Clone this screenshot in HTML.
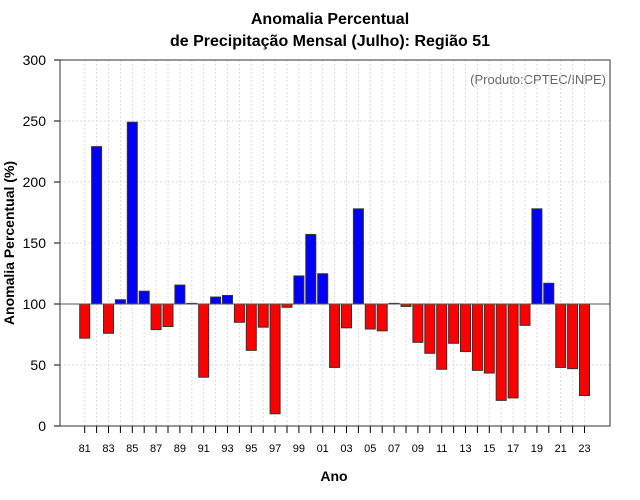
<!DOCTYPE html>
<html><head><meta charset="utf-8"><style>
body{margin:0;background:#fff}
svg{display:block;font-family:"Liberation Sans",sans-serif}
</style></head><body>
<svg id="chart" width="640" height="500">
<text x="330" y="24" text-anchor="middle" font-size="16" font-weight="bold">Anomalia Percentual</text>
<text x="330" y="46" text-anchor="middle" font-size="16" font-weight="bold">de Precipitação Mensal (Julho): Região 51</text>
<text x="606" y="84" text-anchor="end" font-size="13" fill="#666">(Produto:CPTEC/INPE)</text>
<text x="334" y="481" text-anchor="middle" font-size="14" font-weight="bold">Ano</text>
<text transform="translate(14,243) rotate(-90)" text-anchor="middle" font-size="14" font-weight="bold">Anomalia Percentual (%)</text>
<g id="grid"></g><g id="bars"></g><g id="axes"></g>
</svg>
<script>
const years=[81,82,83,84,85,86,87,88,89,90,91,92,93,94,95,96,97,98,99,0,1,2,3,4,5,6,7,8,9,10,11,12,13,14,15,16,17,18,19,20,21,22,23];
const values=[72,229,76,103.5,249,110.5,79,81.5,115.5,100.5,40,105.7,107,85,62,81,10,97.3,123,157,124.8,48,80.5,178,79.5,78,100.5,98,68.6,59.6,46.5,67.8,61,45.6,43.4,21,23,82.5,178,117,48,47,25];
const yTicks=[0,50,100,150,200,250,300];
const baseline=100;
const NS="http://www.w3.org/2000/svg";
const L=60,R=610,T=60,B=426;
const y=v=>B-(v/300)*(B-T);
const x=i=>84.7+i*11.9;
function mk(tag,attrs,parent){const e=document.createElementNS(NS,tag);for(const k in attrs)e.setAttribute(k,attrs[k]);parent.appendChild(e);return e;}
const grid=document.getElementById('grid'),bars=document.getElementById('bars'),axes=document.getElementById('axes');
yTicks.forEach(t=>{
 const g=mk('line',{x1:L,x2:R,y1:y(t),y2:y(t),stroke:'#ddd','stroke-dasharray':'2,2'},grid);
 
 
 const tk=mk('line',{x1:L-6,x2:L,y1:y(t),y2:y(t),stroke:'#000'},axes);
 
 
 const lb=mk('text',{x:L-14,y:y(t)+5,'text-anchor':'end','font-size':14},axes);
 lb.textContent=t;
 
 
});
years.forEach((yr,i)=>{
 const gl=mk('line',{x1:x(i),x2:x(i),y1:T,y2:B,stroke:'#ddd','stroke-dasharray':'2,2'},grid);
 
 
 const v=values[i];
 const top=y(Math.max(v,baseline)),bot=y(Math.min(v,baseline));
 const r=mk('rect',{x:x(i)-5,y:top,width:10,height:Math.max(bot-top,0.5),fill:v>=baseline?'#0000ff':'#ff0000',stroke:'#333','stroke-width':1},bars);
 
 
 const tk=mk('line',{x1:x(i),x2:x(i),y1:B,y2:B+7,stroke:'#000'},axes);
 
 
 if(i%2===0){
  const lb=mk('text',{x:x(i),y:B+26,'text-anchor':'middle','font-size':11},axes);
  lb.textContent=String(yr).padStart(2,'0');
  
  
 }
});
const bl=mk('line',{x1:L,x2:R,y1:y(baseline),y2:y(baseline),stroke:'#555','stroke-width':1},axes);


const fr=mk('rect',{x:L,y:T,width:R-L,height:B-T,fill:'none',stroke:'#333','stroke-width':1},axes);


</script>
</body></html>
